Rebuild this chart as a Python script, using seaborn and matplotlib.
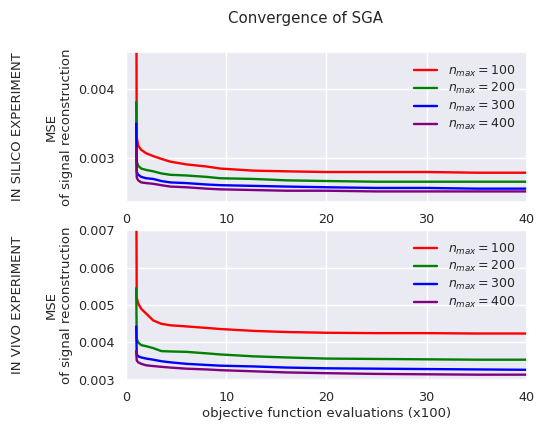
import numpy as np
import pandas as pd
import matplotlib
matplotlib.use("Agg")
import matplotlib.pyplot as plt
import seaborn as sns

sns.set_theme(style="darkgrid")
plt.rcParams['font.family'] = ['DejaVu Sans']

evals = [1.0, 1.05, 1.2, 1.5, 2.0, 2.7, 3.5, 4.4, 6.0, 8.0, 9.4, 12.7, 16.0, 20.0, 25.0, 30.0, 35.0, 40.0]

nmax_labels = ["100", "200", "300", "400"]
colors = ["red", "green", "blue", "purple"]

silico_100 = [0.0060, 0.00330, 0.00318, 0.00312, 0.00307, 0.00303, 0.00299, 0.00295, 0.00291, 0.00288, 0.00285, 0.00282, 0.00281, 0.00280, 0.00280, 0.00280, 0.00279, 0.00279]
silico_200 = [0.00381, 0.00295, 0.00289, 0.00285, 0.00283, 0.00281, 0.00278, 0.00276, 0.00275, 0.00273, 0.00271, 0.00270, 0.00268, 0.00267, 0.00266, 0.00266, 0.00266, 0.00266]
silico_300 = [0.00350, 0.00280, 0.00276, 0.00273, 0.00271, 0.00270, 0.00267, 0.00265, 0.00264, 0.00262, 0.00261, 0.00260, 0.00259, 0.00258, 0.00257, 0.00257, 0.00256, 0.00256]
silico_400 = [0.00314, 0.00272, 0.00268, 0.00265, 0.00264, 0.00263, 0.00261, 0.00259, 0.00258, 0.00256, 0.00255, 0.00254, 0.00253, 0.00253, 0.00252, 0.00252, 0.00252, 0.00252]

vivo_100 = [0.0090, 0.00520, 0.00504, 0.00490, 0.00477, 0.00459, 0.00450, 0.00446, 0.00443, 0.00439, 0.00436, 0.00431, 0.00428, 0.00426, 0.00425, 0.00425, 0.00424, 0.00424]
vivo_200 = [0.00545, 0.00410, 0.00400, 0.00393, 0.00390, 0.00385, 0.00377, 0.00376, 0.00375, 0.00371, 0.00368, 0.00363, 0.00360, 0.00357, 0.00356, 0.00355, 0.00354, 0.00354]
vivo_300 = [0.00443, 0.00368, 0.00363, 0.00360, 0.00357, 0.00354, 0.00350, 0.00347, 0.00343, 0.00340, 0.00338, 0.00336, 0.00333, 0.00331, 0.00330, 0.00329, 0.00328, 0.00327]
vivo_400 = [0.00377, 0.00352, 0.00347, 0.00343, 0.00339, 0.00337, 0.00335, 0.00333, 0.00330, 0.00328, 0.00326, 0.00323, 0.00320, 0.00318, 0.00316, 0.00315, 0.00314, 0.00314]

panels = [
    ("IN SILICO EXPERIMENT", [silico_100, silico_200, silico_300, silico_400], (0.00237, 0.00453), [0.003, 0.004]),
    ("IN VIVO EXPERIMENT", [vivo_100, vivo_200, vivo_300, vivo_400], (0.003, 0.007), [0.003, 0.004, 0.005, 0.006, 0.007]),
]

fig, axes = plt.subplots(2, 1, figsize=(5.37, 4.24), dpi=100)
fig.subplots_adjust(left=0.235, right=0.981, top=0.877, bottom=0.104, hspace=0.19)

for ax, (row_label, series, ylim, yticks) in zip(axes, panels):
    for lab, col, vals in zip(nmax_labels, colors, series):
        df = pd.DataFrame({"x": evals, "y": vals})
        sns.lineplot(data=df, x="x", y="y", ax=ax, color=col, linewidth=1.7,
                     label=r"$n_{max} = %s$" % lab, estimator=None)
    ax.set_xlim(0, 40)
    ax.set_ylim(*ylim)
    ax.set_yticks(yticks)
    ax.set_xticks([0, 10, 20, 30, 40])
    ax.tick_params(labelsize=9.2, pad=2)
    ax.set_ylabel("MSE\nof signal reconstruction", fontsize=9.5, labelpad=4)
    ax.set_xlabel("")
    ax.legend(loc="upper right", frameon=False, fontsize=9, handlelength=1.8,
              handletextpad=0.9, labelspacing=0.22)
    pos = ax.get_position()
    fig.text(0.0335, (pos.y0 + pos.y1) / 2, row_label, rotation=90, ha="center", va="center", fontsize=9.5)

axes[1].set_xlabel("objective function evaluations (x100)", fontsize=9.5, labelpad=2)
fig.text(0.568, 0.957, "Convergence of SGA", fontsize=10.8, ha="center", va="center")

fig.savefig("out.png", dpi=100)
